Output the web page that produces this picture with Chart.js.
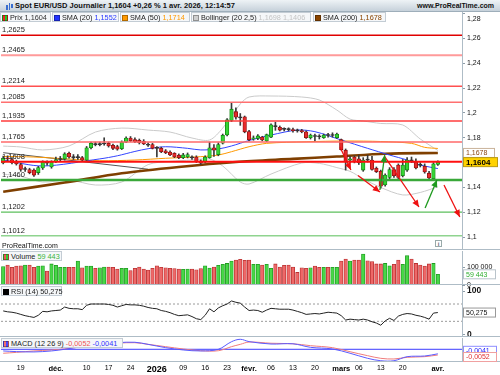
<!DOCTYPE html>
<html lang="fr">
<head>
<meta charset="utf-8">
<title>Spot EUR/USD Journalier</title>
<script src="https://cdn.jsdelivr.net/npm/chart.js@4.4.1/dist/chart.umd.min.js"></script>
<style>
  html,body{margin:0;padding:0;background:#fff;}
  body{width:500px;height:375px;position:relative;overflow:hidden;font-family:"Liberation Sans",Arial,sans-serif;color:#111;}
  canvas{position:absolute;left:0;display:block;}
  .ov{position:absolute;z-index:5;white-space:nowrap;}
  #title{left:0;top:0;width:500px;height:11px;background:linear-gradient(#eef3f6,#c6d1da);border-bottom:1px solid #9eaeba;}
  #title .t{position:absolute;left:15px;top:0;font-weight:bold;font-size:7.5px;line-height:11px;color:#111;}
  #title .w{position:absolute;left:417px;top:0;font-weight:bold;font-size:7px;line-height:11px;color:#111;}
  #title .ic{position:absolute;top:3px;width:1.5px;background:#3a6fd0;}
  .lg{position:absolute;z-index:5;height:10px;line-height:9px;font-size:7.3px;border:1px solid #c3ccd4;background:#f5f7f9;padding:0 1px;box-sizing:border-box;white-space:nowrap;color:#222;}
  .sq{display:inline-block;width:6px;height:6px;vertical-align:-0.5px;margin-right:2px;border:1px solid rgba(0,0,0,0.3);box-sizing:border-box;}
  #prt{left:2px;top:242px;font-size:7px;line-height:8px;color:#111;}
  #info{left:435px;top:240px;width:7px;height:7px;border:1px solid #9aa;box-sizing:border-box;font-size:6px;line-height:6px;text-align:center;color:#667;font-weight:bold;background:#fff;}
</style>
</head>
<body>
<div id="title" class="ov">
  <div class="ic" style="left:6px;height:5px;top:5px"></div>
  <div class="ic" style="left:8.5px;height:7px;top:3px"></div>
  <div class="ic" style="left:11px;height:4px;top:4px"></div>
  <div class="t">Spot EUR/USD Journalier 1,1604 +0,26 % 1 avr. 2026, 12:14:57</div>
  <div class="w">www.ProRealTime.com</div>
</div>

<div class="lg" style="left:0;top:12px;width:51px"><span class="sq" style="background:linear-gradient(90deg,#e22 50%,#2c2 50%)"></span>Prix <span style="color:#333">1,1604</span></div>
<div class="lg" style="left:52px;top:12px;width:67px"><span class="sq" style="background:#2233ff"></span>SMA (20) <span style="color:#2b3bff">1,1552</span></div>
<div class="lg" style="left:120px;top:12px;width:70px"><span class="sq" style="background:#ff9900"></span>SMA (50) <span style="color:#ff9900">1,1714</span></div>
<div class="lg" style="left:191px;top:12px;width:120px"><span class="sq" style="background:#cfcfcf"></span>Bollinger (20 2,5) <span style="color:#c4c4c4">1,1698 1,1406</span></div>
<div class="lg" style="left:313px;top:12px;width:73px"><span class="sq" style="background:#8b4500"></span>SMA (200) <span style="color:#8b4500">1,1678</span></div>

<div id="prt" class="ov">ProRealTime.com</div>
<div id="info" class="ov">i</div>

<div class="lg" style="left:1px;top:251px;width:61px"><span class="sq" style="background:linear-gradient(90deg,#e55 50%,#3c3 50%)"></span>Volume <span style="color:#3bb53b">59 443</span></div>
<div class="lg" style="left:1px;top:286px;width:61px"><span class="sq" style="background:#000"></span>RSI (14) 50,275</div>
<div class="lg" style="left:1px;top:338px;width:122px"><span class="sq" style="background:linear-gradient(90deg,#f07070 50%,#4848ff 50%)"></span>MACD (12 26 9) <span style="color:#e55">-0,0052</span> <span style="color:#3333ff">-0,0041</span></div>

<canvas id="cMain" width="500" height="250" style="top:0"></canvas>
<canvas id="cVol" width="500" height="40" style="top:250px"></canvas>
<canvas id="cRsi" width="500" height="53" style="top:285px"></canvas>
<canvas id="cMacd" width="500" height="38" style="top:337px"></canvas>

<script>
// ======================= DATA =======================
// daily candles, index 0 = 13 nov. 2025 ... index 99 = 1 avr. 2026
const opens = [1.1597,1.1637,1.1625,1.1610,1.1585,1.1545,1.1545,1.1540,1.1520,1.1557,
  1.1600,1.1565,1.1610,1.1625,1.1630,1.1675,1.1645,1.1640,1.1640,1.1620,
  1.1720,1.1750,1.1745,1.1750,1.1755,1.1740,1.1730,1.1712,1.1765,1.1798,
  1.1785,1.1780,1.1772,1.1745,1.1745,1.1720,1.1715,1.1695,1.1685,1.1675,
  1.1660,1.1640,1.1645,1.1640,1.1645,1.1615,1.1605,1.1640,1.1720,1.1665,
  1.1757,1.1822,1.1940,1.2010,1.1965,1.1968,1.1850,1.1790,1.1795,1.1805,
  1.1775,1.1805,1.1895,1.1885,1.1870,1.1868,1.1865,1.1860,1.1858,1.1848,
  1.1800,1.1815,1.1810,1.1800,1.1822,1.1818,1.1800,1.1785,1.1700,1.1620,
  1.1645,1.1630,1.1540,1.1625,1.1620,1.1555,1.1530,1.1420,1.1480,1.1545,
  1.1580,1.1495,1.1540,1.1620,1.1605,1.1580,1.1570,1.1515,1.1470,1.1585];
const highs = [1.1650,1.1655,1.1640,1.1620,1.1595,1.1565,1.1555,1.1550,1.1570,1.1615,
  1.1615,1.1615,1.1645,1.1650,1.1680,1.1685,1.1665,1.1665,1.1650,1.1730,
  1.1765,1.1765,1.1765,1.1800,1.1765,1.1750,1.1740,1.1775,1.1808,1.1810,
  1.1800,1.1790,1.1785,1.1760,1.1755,1.1730,1.1725,1.1705,1.1695,1.1680,
  1.1670,1.1675,1.1678,1.1655,1.1655,1.1622,1.1655,1.1765,1.1745,1.1760,
  1.1830,1.1955,1.2082,1.2040,1.1995,1.1975,1.1860,1.1815,1.1825,1.1812,
  1.1830,1.1912,1.1925,1.1895,1.1880,1.1880,1.1878,1.1870,1.1868,1.1855,
  1.1830,1.1830,1.1825,1.1830,1.1835,1.1840,1.1838,1.1790,1.1710,1.1650,
  1.1655,1.1660,1.1640,1.1660,1.1650,1.1565,1.1540,1.1510,1.1560,1.1560,
  1.1590,1.1625,1.1640,1.1645,1.1630,1.1600,1.1590,1.1530,1.1600,1.1615];
const lows = [1.1590,1.1615,1.1590,1.1580,1.1530,1.1530,1.1510,1.1490,1.1505,1.1545,
  1.1580,1.1555,1.1600,1.1610,1.1620,1.1635,1.1625,1.1625,1.1610,1.1615,
  1.1710,1.1735,1.1735,1.1740,1.1725,1.1705,1.1700,1.1705,1.1760,1.1770,
  1.1760,1.1750,1.1745,1.1730,1.1710,1.1645,1.1680,1.1672,1.1655,1.1640,
  1.1632,1.1632,1.1638,1.1625,1.1600,1.1585,1.1598,1.1635,1.1650,1.1655,
  1.1750,1.1815,1.1930,1.1950,1.1900,1.1840,1.1775,1.1780,1.1785,1.1775,
  1.1768,1.1800,1.1860,1.1855,1.1855,1.1855,1.1845,1.1845,1.1840,1.1795,
  1.1790,1.1775,1.1790,1.1795,1.1805,1.1805,1.1795,1.1700,1.1540,1.1600,
  1.1598,1.1585,1.1530,1.1605,1.1540,1.1520,1.1395,1.1410,1.1470,1.1480,
  1.1470,1.1485,1.1530,1.1600,1.1550,1.1565,1.1515,1.1460,1.1455,1.1578];
const closes = [1.1637,1.1630,1.1600,1.1590,1.1545,1.1550,1.1520,1.1500,1.1560,1.1605,
  1.1595,1.1605,1.1625,1.1630,1.1670,1.1645,1.1640,1.1645,1.1620,1.1720,
  1.1755,1.1745,1.1750,1.1752,1.1735,1.1715,1.1708,1.1765,1.1798,1.1775,
  1.1768,1.1760,1.1750,1.1740,1.1715,1.1715,1.1688,1.1680,1.1662,1.1645,
  1.1640,1.1662,1.1665,1.1638,1.1610,1.1595,1.1645,1.1720,1.1700,1.1745,
  1.1820,1.1945,1.2030,1.1965,1.1960,1.1848,1.1785,1.1800,1.1815,1.1783,
  1.1825,1.1905,1.1890,1.1862,1.1868,1.1865,1.1858,1.1855,1.1850,1.1800,
  1.1822,1.1810,1.1808,1.1822,1.1818,1.1822,1.1830,1.1705,1.1605,1.1630,
  1.1610,1.1600,1.1620,1.1620,1.1545,1.1528,1.1410,1.1500,1.1545,1.1495,
  1.1480,1.1580,1.1620,1.1615,1.1558,1.1578,1.1525,1.1476,1.1590,1.1604];
const volumes = [102000,111000,98000,105000,107000,111000,111000,98000,105000,107000,
  78000,117000,109000,98000,98000,98000,98000,133000,96000,105000,
  105000,93000,96000,100000,100000,98000,89000,93000,93000,80000,
  93000,100000,89000,83000,93000,107000,98000,96000,93000,91000,
  89000,87000,89000,89000,85000,91000,107000,94000,100000,109000,
  115000,120000,133000,139000,143000,137000,139000,115000,115000,111000,
  115000,93000,117000,100000,109000,111000,100000,70000,96000,93000,
  96000,105000,98000,98000,98000,98000,98000,133000,144000,133000,
  139000,139000,172000,135000,130000,117000,117000,120000,107000,115000,
  139000,115000,163000,144000,120000,111000,105000,117000,120000,59443];
const rsi = [54,52,51,49,46,43,41,39,44,53, 52,54,55,56,63,60,59,59,57,67,
  70,70,70,70,69,67,63,66,69,68, 68,67,65,62,60,59,55,53,50,46,
  43,44,45,41,36,34,44,59,52,61, 66,70,77,74,72,63,55,56,55,51,
  56,60,59,58,58,58,56,53,50,46, 47,48,47,49,51,50,49,43,33,35,
  34,33,35,33,29,26,21,31,37,32, 42,46,48,47,44,42,39,35,49,50.275];
const rsiLevels = [70, 30];

// indicator lines sampled at candle indices
const sma20Idx = [0,9,22,26,30,33,37,42,45,49,52,56,61,67,71,77,83,88,92,95,99];
const sma20    = [1.1621,1.1573,1.1630,1.1655,1.1690,1.1712,1.1728,1.1715,1.1702,1.1710,1.1734,1.1778,1.1822,1.1862,1.1849,1.1782,1.1715,1.1661,1.1621,1.1581,1.1552];
const sma50Idx = [0,7,15,22,30,37,45,49,52,56,60,69,78,86,93,96,99];
const sma50    = [1.1650,1.1645,1.1629,1.1615,1.1621,1.1635,1.1648,1.1661,1.1688,1.1728,1.1755,1.1768,1.1774,1.1770,1.1755,1.1723,1.1714];
const sma200Idx = [0,14,27,40,53,66,76,87,99];
const sma200    = [1.1366,1.1440,1.1514,1.1565,1.1605,1.1630,1.1649,1.1672,1.1678];
const bollIdx = [0,4,9,15,21,27,33,38,43,47,50,54,56,61,68,72,76,79,82,86,91,95,99];
const bollUp  = [1.1733,1.1726,1.1702,1.1734,1.1846,1.1878,1.1862,1.1846,1.1798,1.1782,1.1878,1.2072,1.2128,1.2136,1.2128,1.2104,1.2023,1.1950,1.1935,1.1915,1.1903,1.1790,1.1698];
const bollLow = [1.1508,1.1490,1.1444,1.1460,1.1420,1.1444,1.1584,1.1610,1.1621,1.1629,1.1573,1.1444,1.1428,1.1508,1.1597,1.1594,1.1560,1.1530,1.1470,1.1400,1.1340,1.1360,1.1406];
const trendIdx = [0, 33];
const trendVal = [1.1680, 1.1547];

const macdIdx  = [0,3,7,11,14,18,22,26,30,33,37,41,45,49,52,54,56,61,66,70,75,79,83,86,89,92,96,99];
const macdRed  = [-0.0036,-0.0028,-0.0015,-0.0006,0.0003,0.0024,0.0039,0.0055,0.0060,0.0045,0.0024,0.0003,-0.0013,-0.0013,0.0024,0.0045,0.0066,0.0055,0.0050,0.0033,0.0015,-0.0022,-0.0058,-0.0082,-0.0088,-0.0073,-0.0067,-0.0052];
const macdBlue = [-0.0015,-0.0021,-0.0024,-0.0015,0.0000,0.0024,0.0045,0.0060,0.0064,0.0045,0.0015,-0.0006,-0.0015,0.0000,0.0069,0.0091,0.0070,0.0048,0.0050,0.0018,0.0003,-0.0036,-0.0082,-0.0104,-0.0104,-0.0067,-0.0061,-0.0041];

// horizontal support / resistance levels
const levelValues = [1.2625,1.2465,1.2214,1.2085,1.1935,1.1765,1.1608,1.1460,1.1202,1.1012];
// hand drawn arrows [candle index, price]
const arrowsFrom = [[76.7,1.1726],[80.8,1.1496],[86.9,1.1649],[100.4,1.1420],[85.8,1.1380],[96.1,1.1235]];
const arrowsTo   = [[79.2,1.1541],[85.8,1.1364],[94.7,1.1243],[104.0,1.1163],[86.9,1.1661],[98.8,1.1460]];

// axis ticks
const priceTicks = [1.10,1.12,1.14,1.16,1.18,1.20,1.22,1.24,1.26,1.28];
const volTicks = [0, 100000];
const rsiTicks = [0, 100];
const dateTickIdx = [4,12,19,24,29,35,41,46,51,56,61,66,71,77,81,86,91,99];
const dateTickLabels = ['19','déc.','10','17','24','2026','09','16','23','févr.','06','13','20','mars','06','13','20','avr.'];

// last values shown in the axis tags
const lastPrice = 1.1604, lastSma200 = 1.1678, lastVolume = 59443, lastRsi = 50.275, lastMacd = -0.0052, lastSignal = -0.0041;

// ======================= STYLE =======================
const FONT = '"Liberation Sans", Arial, sans-serif';
const levelColors = ['#e00000','#ff9a9a','#ff5050','#ff7070','#ff3c3c','#ff6a6a','#ff1010','#3aa83a','#5cbf5c','#8fd48f'];
const levelWidths = [1.5,2,1.5,1.5,1.5,1.5,2,2.5,1.2,1.5];
const arrowColors = ['#ee1111','#ee1111','#ee1111','#ee1111','#1f9a1f','#1f9a1f'];
const X_MIN = -0.5, X_MAX = 104.5, AXIS_W = 38, AXIS_COLOR = '#aebcc6';

const fmtC = (v, d) => v.toFixed(d).replace('.', ',');
const fmtTick = v => v.toFixed(2).replace(/0$/, '').replace('.', ',');

Chart.defaults.font.family = FONT;
Chart.defaults.animation = false;
Chart.defaults.responsive = false;
Chart.defaults.events = [];
Chart.defaults.plugins.legend.display = false;
Chart.defaults.plugins.tooltip.enabled = false;

const hiddenX = () => ({type:'linear', min:X_MIN, max:X_MAX, offset:false, display:false});
const fitRight = s => { s.width = AXIS_W; s.paddingTop = 0; s.paddingBottom = 0; };
function rightY(extra) {
  return Object.assign({
    position:'right',
    afterFit: fitRight,
    grid:{drawOnChartArea:false, drawTicks:true, tickLength:3, color:'#8d9ca7'},
    border:{display:false},
    ticks:{autoSkip:false, padding:2, color:'#111', font:{size:7}}
  }, extra);
}
const lineDS = (idx, vals, color, width, order, extra) => Object.assign({
  type:'line', data: idx.map((x,k)=>({x, y:vals[k]})), borderColor:color, borderWidth:width,
  pointRadius:0, tension:0.3, fill:false, order
}, extra || {});

// separator lines + right axis line
const frame = {
  id:'frame',
  afterDraw(chart) {
    const {ctx, chartArea:ca, width} = chart;
    ctx.save();
    ctx.strokeStyle = AXIS_COLOR; ctx.lineWidth = 1;
    ctx.beginPath();
    ctx.moveTo(0, ca.bottom - 0.5); ctx.lineTo(width, ca.bottom - 0.5);
    ctx.moveTo(ca.right + 0.5, ca.top); ctx.lineTo(ca.right + 0.5, ca.bottom);
    ctx.stroke();
    ctx.restore();
  }
};
function tag(ctx, text, yc, o) {
  ctx.save();
  ctx.font = o.font;
  const w = o.w || 33;
  ctx.fillStyle = o.bg; ctx.fillRect(463.5, yc - 4.5, w, 9);
  ctx.strokeStyle = o.border; ctx.lineWidth = 1; ctx.strokeRect(463.5, yc - 4.5, w, 9);
  ctx.fillStyle = o.color; ctx.textBaseline = 'middle'; ctx.textAlign = 'left';
  ctx.fillText(text, 466, yc + 0.5);
  ctx.restore();
}

// ======================= MAIN PRICE PANEL =======================
const upFill = '#35d435', upLine = '#128512', dnFill = '#e52b2b', dnLine = '#8e1010';
const bodyFill = opens.map((o,i) => Math.abs(closes[i]-o) < 0.0006 ? '#333' : (closes[i] >= o ? upFill : dnFill));
const bodyLine = opens.map((o,i) => Math.abs(closes[i]-o) < 0.0006 ? '#333' : (closes[i] >= o ? upLine : dnLine));

const mainDeco = {
  id:'mainDeco',
  afterDatasetsDraw(chart) {
    const {ctx, scales:{x, y}} = chart;
    ctx.save();
    arrowsTo.forEach((t,k) => {
      const f = arrowsFrom[k];
      const x1 = x.getPixelForValue(f[0]), y1 = y.getPixelForValue(f[1]);
      const x2 = x.getPixelForValue(t[0]), y2 = y.getPixelForValue(t[1]);
      const a = Math.atan2(y2-y1, x2-x1), L = 7, W = 3.2;
      ctx.fillStyle = arrowColors[k];
      ctx.beginPath();
      ctx.moveTo(x2, y2);
      ctx.lineTo(x2 - L*Math.cos(a) + W*Math.sin(a), y2 - L*Math.sin(a) - W*Math.cos(a));
      ctx.lineTo(x2 - L*Math.cos(a) - W*Math.sin(a), y2 - L*Math.sin(a) + W*Math.cos(a));
      ctx.closePath(); ctx.fill();
    });
    ctx.font = '7.5px ' + FONT; ctx.fillStyle = '#222';
    ctx.textBaseline = 'middle'; ctx.textAlign = 'left';
    levelValues.forEach(v => ctx.fillText(fmtC(v, 4), 2, y.getPixelForValue(v) - 5));
    ctx.restore();
  },
  afterDraw(chart) {
    const {ctx, scales:{y}} = chart;
    ctx.save();
    ctx.font = '7px ' + FONT; ctx.fillStyle = '#111'; ctx.textBaseline = 'middle';
    ctx.fillText(fmtTick(priceTicks[priceTicks.length-1]), 467, 19);
    ctx.restore();
    tag(ctx, fmtC(lastSma200, 4), y.getPixelForValue(lastSma200), {font:'7px '+FONT, bg:'#fff', border:'#c9b39a', color:'#8b4513', w:31});
    tag(ctx, fmtC(lastPrice, 4), y.getPixelForValue(lastPrice), {font:'bold 8px '+FONT, bg:'#ffd200', border:'#b99a10', color:'#000', w:34});
  }
};

new Chart(document.getElementById('cMain'), {
  type:'bar',
  data:{datasets:[
    ...levelValues.map((v,k) => ({type:'line', data:[{x:X_MIN,y:v},{x:X_MAX,y:v}], borderColor:levelColors[k], borderWidth:levelWidths[k], pointRadius:0, order:0})),
    ...arrowsFrom.map((f,k) => ({type:'line', data:[{x:f[0],y:f[1]},{x:arrowsTo[k][0],y:arrowsTo[k][1]}], borderColor:arrowColors[k], borderWidth:1.3, pointRadius:0, order:-1})),
    {type:'bar', data: opens.map((o,i)=>({x:i, y:[o, closes[i]]})), backgroundColor: bodyFill, borderColor: bodyLine, borderWidth:0.8, borderSkipped:false, barThickness:3.6, grouped:false, minBarLength:1, order:1},
    {type:'bar', data: lows.map((l,i)=>({x:i, y:[l, highs[i]]})), backgroundColor:'#3a3a3a', barThickness:1, grouped:false, order:2},
    lineDS(sma20Idx, sma20, '#3344ff', 1, 3),
    lineDS(sma50Idx, sma50, '#ff9900', 1, 4),
    lineDS(sma200Idx, sma200, '#7f3f00', 2.6, 5),
    lineDS(trendIdx, trendVal, '#555555', 1, 6, {tension:0}),
    lineDS(bollIdx, bollUp, '#cacaca', 1, 7),
    lineDS(bollIdx, bollLow, '#cacaca', 1, 7)
  ]},
  options:{
    layout:{padding:{left:1, right:0, top:12, bottom:0}},
    scales:{
      x: hiddenX(),
      y: rightY({min:1.0897, max:1.2812,
        afterBuildTicks: s => { s.ticks = priceTicks.map(v => ({value:v})); },
        ticks:{autoSkip:false, padding:2, color:'#111', font:{size:7},
          callback: v => v === priceTicks[priceTicks.length-1] ? '' : fmtTick(v)}})
    }
  },
  plugins:[frame, mainDeco]
});

// ======================= VOLUME =======================
const volFill = opens.map((o,i) => closes[i] >= o ? '#47d747' : '#ee6868');
const volLine = opens.map((o,i) => closes[i] >= o ? '#1f9a1f' : '#b83030');
new Chart(document.getElementById('cVol'), {
  type:'bar',
  data:{datasets:[{data: volumes.map((v,i)=>({x:i, y:v})), backgroundColor:volFill, borderColor:volLine, borderWidth:0.8, borderSkipped:'start', barThickness:3.5, grouped:false}]},
  options:{
    layout:{padding:{left:1, right:0, top:1, bottom:5}},
    scales:{
      x: hiddenX(),
      y: rightY({min:0, max:189000,
        afterBuildTicks: s => { s.ticks = volTicks.map(v => ({value:v})); },
        ticks:{autoSkip:false, padding:2, color:'#111', font:{size:7},
          callback: v => v.toLocaleString('fr-FR').replace(/\s/g,' ')}})
    }
  },
  plugins:[frame, {id:'volTag', afterDraw(chart){
    tag(chart.ctx, lastVolume.toLocaleString('fr-FR').replace(/\s/g,' '), chart.scales.y.getPixelForValue(lastVolume), {font:'7px '+FONT, bg:'#fff', border:'#b9c3ca', color:'#2fae2f', w:32});
  }}]
});

// ======================= RSI =======================
new Chart(document.getElementById('cRsi'), {
  type:'line',
  data:{datasets:[
    ...rsiLevels.map(v => ({data:[{x:X_MIN,y:v},{x:X_MAX,y:v}], borderColor:'#9a9a9a', borderWidth:1, borderDash:[2,2], pointRadius:0, order:2})),
    {data: rsi.map((v,i)=>({x:i, y:v})), borderColor:'#222', borderWidth:1, pointRadius:0, tension:0, order:1}
  ]},
  options:{
    layout:{padding:{left:1, right:0, top:1, bottom:1}},
    scales:{
      x: hiddenX(),
      y: rightY({min:-6.2, max:111.6,
        afterBuildTicks: s => { s.ticks = rsiTicks.map(v => ({value:v})); },
        ticks:{autoSkip:false, padding:2, color:'#111', font:{size:8.5, weight:'bold'}}})
    }
  },
  plugins:[frame, {id:'rsiTag', afterDraw(chart){
    tag(chart.ctx, fmtC(lastRsi, 3), chart.scales.y.getPixelForValue(lastRsi), {font:'7px '+FONT, bg:'#fff', border:'#999', color:'#111', w:32});
  }}]
});

// ======================= MACD + DATE AXIS =======================
new Chart(document.getElementById('cMacd'), {
  type:'line',
  data:{datasets:[
    {data:[{x:X_MIN,y:0},{x:X_MAX,y:0}], borderColor:'#3b3bff', borderWidth:1, pointRadius:0, order:3},
    lineDS(macdIdx, macdRed, '#f07c7c', 1, 2, {tension:0.35}),
    lineDS(macdIdx, macdBlue, '#5a5aff', 1, 1, {tension:0.35})
  ]},
  options:{
    layout:{padding:{left:1, right:0, top:1, bottom:0}},
    scales:{
      x:{type:'linear', min:X_MIN, max:X_MAX, offset:false, position:'bottom',
        afterFit: s => { s.height = 13; s.paddingLeft = 0; s.paddingRight = 0; },
        afterBuildTicks: s => { s.ticks = dateTickIdx.map(v => ({value:v})); },
        grid:{display:false, drawTicks:false}, border:{display:false},
        ticks:{autoSkip:false, maxRotation:0, padding:2, color:'#000',
          callback:(v,i) => dateTickLabels[i],
          font: c => {
            const lab = dateTickLabels[c.index] || '';
            if (lab === '2026') return {family:FONT, size:9, weight:'bold'};
            if (/[a-zé]/.test(lab)) return {family:FONT, size:7.5, weight:'bold'};
            return {family:FONT, size:7, weight:'normal'};
          }}},
      y: rightY({min:-0.01155, max:0.01027, ticks:{display:false}, grid:{display:false}})
    }
  },
  plugins:[frame, {id:'macdTag', afterDraw(chart){
    const y = chart.scales.y;
    tag(chart.ctx, fmtC(lastSignal, 4), y.getPixelForValue(lastSignal) - 3, {font:'7px '+FONT, bg:'#fff', border:'#8f8fff', color:'#2222ff', w:33});
    tag(chart.ctx, fmtC(lastMacd, 4), y.getPixelForValue(lastMacd) + 2, {font:'7px '+FONT, bg:'#fff', border:'#f0a0a0', color:'#e03030', w:33});
  }}]
});
</script>
</body>
</html>
